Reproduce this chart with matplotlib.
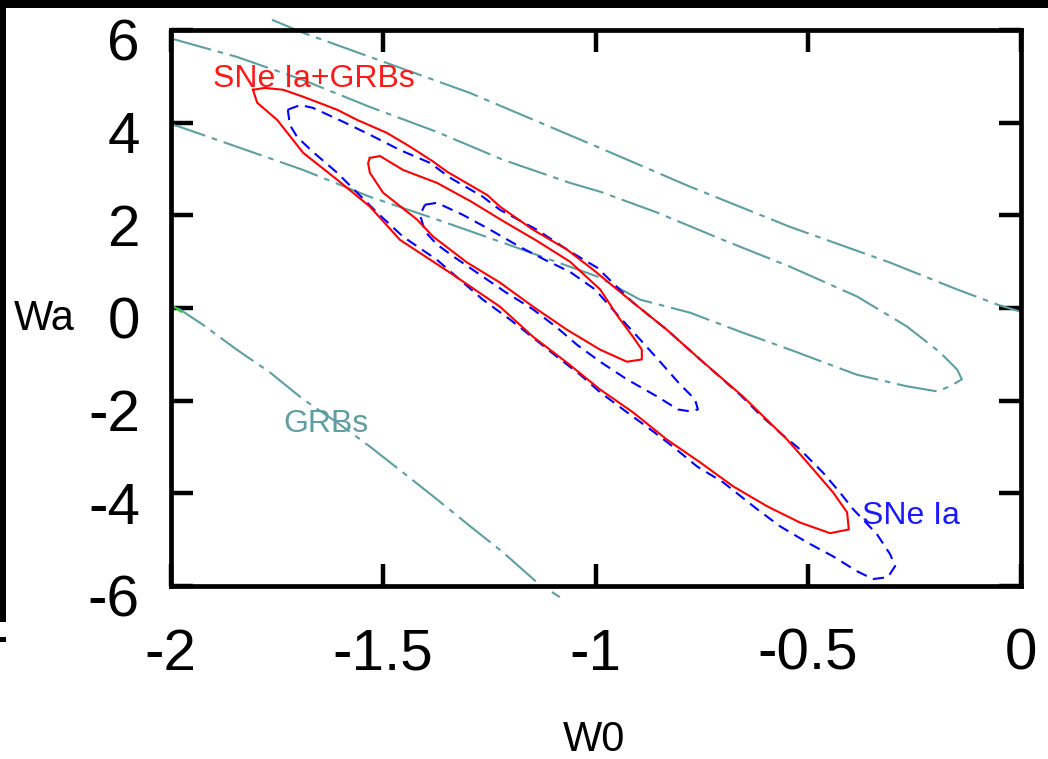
import matplotlib
matplotlib.use("Agg")
import matplotlib.pyplot as plt
from matplotlib.patches import Rectangle
from matplotlib.transforms import ScaledTranslation

plt.rcParams['font.family'] = ['Liberation Sans', 'DejaVu Sans']
plt.rcParams['lines.scale_dashes'] = False
plt.rcParams['axes.unicode_minus'] = False

# ---- axis ticks -------------------------------------------------------
x_ticks = [-2, -1.5, -1, -0.5, 0]
x_tick_labels = ['-2', '-1.5', '-1', '-0.5', '0']
y_ticks = [6, 4, 2, 0, -2, -4, -6]
y_tick_labels = ['6', '4', '2', '0', '-2', '-4', '-6']

# ---- GRBs: inner confidence contour (open at the left edge) -----------
grb1_w0 = [-1.996, -1.961, -1.844, -1.688, -1.531, -1.373, -1.218, -1.060,
           -0.989, -0.855, -0.700, -0.542, -0.385, -0.267, -0.189, -0.149,
           -0.138, -0.166, -0.196, -0.267, -0.385, -0.542, -0.660, -0.778,
           -0.895, -0.996, -1.060, -1.218, -1.373, -1.531, -1.688, -1.844,
           -1.978, -2.000]
grb1_wa = [5.81, 5.72, 5.42, 4.92, 4.34, 3.80, 3.20, 2.70,
           2.51, 2.06, 1.47, 0.89, 0.25, -0.40, -0.96, -1.33,
           -1.54, -1.69, -1.80, -1.69, -1.44, -0.90, -0.51, -0.10,
           0.18, 0.68, 0.89, 1.41, 1.91, 2.40, 2.98, 3.48,
           3.91, 3.97]

# ---- GRBs: outer confidence contour, upper and lower branches ---------
grb2_up_w0 = [-1.761, -1.688, -1.531, -1.295, -0.996, -0.778, -0.542,
              -0.307, -0.149, -0.053, 0.000]
grb2_up_wa = [6.22, 5.94, 5.42, 4.64, 3.48, 2.62, 1.75,
              0.98, 0.40, 0.07, -0.08]
grb2_lo_w0 = [-2.000, -1.978, -1.924, -1.844, -1.766, -1.688, -1.608,
              -1.531, -1.453, -1.373, -1.295, -1.218, -1.138, -1.084]
grb2_lo_wa = [0.05, -0.03, -0.36, -0.90, -1.39, -1.97, -2.47,
              -2.99, -3.55, -4.13, -4.71, -5.27, -5.92, -6.24]
green_w0 = [-2.000, -1.975]
green_wa = [0.08, -0.08]

# ---- SNe Ia: inner and outer contours ---------------------------------
sn1_w0 = [-1.401, -1.373, -1.312, -1.248, -1.178, -1.119, -1.060, -1.001,
          -0.949, -0.895, -0.848, -0.801, -0.766, -0.759, -0.778, -0.806,
          -0.855, -0.926, -0.989, -1.044, -1.091, -1.147, -1.213, -1.272,
          -1.331, -1.373, -1.401, -1.413, -1.401]
sn1_wa = [2.23, 2.27, 2.01, 1.69, 1.32, 1.04, 0.78, 0.40,
          -0.14, -0.68, -1.16, -1.65, -1.97, -2.19, -2.23, -2.19,
          -1.91, -1.54, -1.16, -0.79, -0.42, -0.03, 0.35, 0.72,
          1.09, 1.37, 1.65, 2.01, 2.23]

sn2_w0 = [-1.724, -1.695, -1.665, -1.594, -1.531, -1.460, -1.389, -1.342,
          -1.265, -1.225, -1.138, -1.060, -0.996, -0.912, -0.832, -0.754,
          -0.660, -0.613, -0.566, -0.519, -0.465, -0.425, -0.394, -0.338,
          -0.307, -0.295, -0.312, -0.347, -0.385, -0.441, -0.502, -0.566,
          -0.620, -0.700, -0.761, -0.818, -0.865, -0.926, -0.989, -1.036,
          -1.091, -1.147, -1.201, -1.265, -1.319, -1.373, -1.453, -1.514,
          -1.561, -1.608, -1.665, -1.702, -1.719, -1.724]
sn2_wa = [4.28, 4.38, 4.32, 4.02, 3.74, 3.41, 3.13, 2.81,
          2.40, 2.12, 1.69, 1.22, 0.87, 0.12, -0.47, -1.11,
          -1.87, -2.30, -2.69, -3.05, -3.55, -3.98, -4.34, -4.88,
          -5.31, -5.57, -5.81, -5.85, -5.68, -5.36, -5.06, -4.71,
          -4.34, -3.76, -3.42, -2.99, -2.66, -2.25, -1.82, -1.44,
          -1.05, -0.64, -0.25, 0.18, 0.61, 1.04, 1.54, 2.06,
          2.49, 2.92, 3.37, 3.69, 3.95, 4.28]

# ---- SNe Ia + GRBs: inner and outer contours --------------------------
comb1_w0 = [-1.531, -1.507, -1.453, -1.373, -1.295, -1.218, -1.138, -1.060,
            -0.989, -0.949, -0.912, -0.891, -0.891, -0.926, -0.989, -1.067,
            -1.147, -1.225, -1.302, -1.382, -1.420, -1.500, -1.531, -1.535,
            -1.531]
comb1_wa = [3.24, 3.28, 2.98, 2.70, 2.31, 1.88, 1.45, 1.00,
            0.40, -0.16, -0.62, -0.90, -1.11, -1.16, -0.90, -0.47,
            0.03, 0.55, 0.98, 1.54, 1.91, 2.49, 2.92, 3.13,
            3.24]

comb2_w0 = [-1.806, -1.778, -1.735, -1.688, -1.608, -1.561, -1.491, -1.436,
            -1.382, -1.349, -1.255, -1.225, -1.147, -1.067, -1.006, -0.912,
            -0.832, -0.754, -0.653, -0.549, -0.502, -0.441, -0.408, -0.404,
            -0.448, -0.519, -0.596, -0.676, -0.754, -0.832, -0.912, -0.989,
            -1.067, -1.147, -1.225, -1.342, -1.460, -1.531, -1.608, -1.688,
            -1.749, -1.796, -1.806]
comb2_wa = [4.71, 4.75, 4.71, 4.56, 4.28, 4.06, 3.78, 3.48,
            3.16, 2.94, 2.44, 2.19, 1.69, 1.26, 0.83, 0.12,
            -0.47, -1.11, -1.91, -2.84, -3.33, -3.98, -4.41, -4.78,
            -4.86, -4.63, -4.28, -3.85, -3.33, -2.84, -2.25, -1.76,
            -1.18, -0.62, 0.03, 0.76, 1.47, 2.19, 2.77, 3.35,
            4.06, 4.43, 4.71]

# ---- figure -----------------------------------------------------------
W, H = 1048, 759
fig = plt.figure(figsize=(W / 100, H / 100), dpi=100)
fig.patch.set_facecolor('white')

# dark strips along the top and left margins
fig.add_artist(Rectangle((0, 1 - 8 / H), 1, 8 / H, transform=fig.transFigure,
                         color='black', lw=0))
fig.add_artist(Rectangle((0, 1 - 622 / H), 6 / W, (622 - 8) / H,
                         transform=fig.transFigure, color='black', lw=0))
fig.add_artist(Rectangle((0, 1 - 642 / H), 6 / W, 5 / H,
                         transform=fig.transFigure, color='black', lw=0))

ax = fig.add_axes([170.5 / W, 1 - 586 / H, 850 / W, 556 / H])
ax.set_xlim(-2, 0)
ax.set_ylim(-6, 6)

teal = '#5f9ea0'
teal_dash = [29, 5, 4, 5]
blue_dash = [8, 5]

ax.plot(grb1_w0, grb1_wa, color=teal, lw=1.5, dashes=teal_dash, clip_on=False)
ax.plot(grb2_up_w0, grb2_up_wa, color=teal, lw=1.5, dashes=teal_dash,
        clip_on=False)
ax.plot(grb2_lo_w0, grb2_lo_wa, color=teal, lw=1.5, dashes=teal_dash,
        clip_on=False)
ax.plot(green_w0, green_wa, color='#22cc22', lw=1.5)

ax.plot(sn1_w0, sn1_wa, color='#0000ff', lw=1.5, dashes=blue_dash)
ax.plot(sn2_w0, sn2_wa, color='#0000ff', lw=1.5, dashes=blue_dash)

ax.plot(comb1_w0, comb1_wa, color='#ff0000', lw=1.5)
ax.plot(comb2_w0, comb2_wa, color='#ff0000', lw=1.5)

ax.text(-1.9, 4.94, 'SNe Ia+GRBs', color='#ff1a1a', fontsize=23,
        ha='left', va='center')
ax.text(-0.373, -4.50, 'SNe Ia', color='#1a1aff', fontsize=23,
        ha='left', va='center')
ax.text(-1.735, -2.51, 'GRBs', color=teal, fontsize=23,
        ha='left', va='center')

ax.set_xticks(x_ticks)
ax.set_xticklabels(x_tick_labels)
ax.set_yticks(y_ticks)
ax.set_yticklabels(y_tick_labels)
ax.minorticks_off()
ax.tick_params(direction='in', length=16, width=3.2, top=True, right=True,
               labelsize=42, colors='black')
ax.tick_params(axis='x', pad=30)
ax.tick_params(axis='y', pad=22)

for lab in ax.get_yticklabels():
    lab.set_transform(lab.get_transform()
                      + ScaledTranslation(0, -7 / 72, fig.dpi_scale_trans))

for s in ax.spines.values():
    s.set_linewidth(3.4)
    s.set_capstyle('projecting')

ax.set_ylabel('Wa', rotation=0, fontsize=30, ha='center', va='center')
ax.yaxis.set_label_coords(-0.149, 0.480)
ax.set_xlabel('W0', fontsize=30, ha='center', va='center')
ax.xaxis.set_label_coords(0.498, -0.277)

fig.savefig('out.png', dpi=100)
